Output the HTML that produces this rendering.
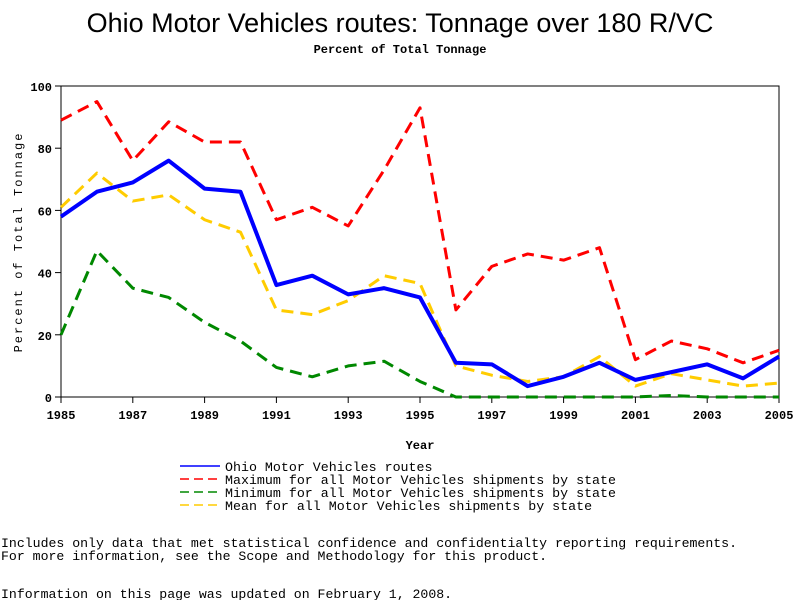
<!DOCTYPE html>
<html><head><meta charset="utf-8"><style>
body{margin:0;background:#fff;width:800px;height:600px;overflow:hidden}
svg{display:block}
text{font-family:"Liberation Mono",monospace}
</style></head><body>
<svg id="chart" width="800" height="600" xmlns="http://www.w3.org/2000/svg">
<text x="400" y="32" text-anchor="middle" style="font-family:'Liberation Sans',sans-serif" font-size="27">Ohio Motor Vehicles routes: Tonnage over 180 R/VC</text>
<text x="400" y="53" text-anchor="middle" font-size="12" font-weight="bold">Percent of Total Tonnage</text>
<rect x="61" y="86" width="718" height="311" fill="none" stroke="#000" stroke-width="1"/>
<g id="yticks"></g><g id="xticks"></g><g id="series"></g>
<text transform="translate(22,242) rotate(-90)" text-anchor="middle" font-size="12" letter-spacing="2">Percent of Total Tonnage</text>
<text x="420" y="449" text-anchor="middle" font-size="12" font-weight="bold">Year</text>
<g font-size="13.3">
<line x1="180" y1="466" x2="220" y2="466" stroke="#00f" stroke-width="1.5"/>
<text x="225" y="471">Ohio Motor Vehicles routes</text>
<line x1="180" y1="479" x2="220" y2="479" stroke="#f00" stroke-width="1.5" stroke-dasharray="9,5"/>
<text x="225" y="484">Maximum for all Motor Vehicles shipments by state</text>
<line x1="180" y1="492" x2="220" y2="492" stroke="#080" stroke-width="1.5" stroke-dasharray="9,5"/>
<text x="225" y="497">Minimum for all Motor Vehicles shipments by state</text>
<line x1="180" y1="505" x2="220" y2="505" stroke="#fc0" stroke-width="1.5" stroke-dasharray="9,5"/>
<text x="225" y="510">Mean for all Motor Vehicles shipments by state</text>
</g>
<g font-size="13.2">
<text x="1" y="547">Includes only data that met statistical confidence and confidentialty reporting requirements.</text>
<text x="1" y="560">For more information, see the Scope and Methodology for this product.</text>
<text x="1" y="598">Information on this page was updated on February 1, 2008.</text>
</g>
</svg>
<script>
const years=[1985,1986,1987,1988,1989,1990,1991,1992,1993,1994,1995,1996,1997,1998,1999,2000,2001,2002,2003,2004,2005];
const ohioValues=[58,66,69,76,67,66,36,39,33,35,32,11,10.5,3.5,6.5,11,5.5,8,10.5,6,13];
const maxValues=[89,95,76,88.5,82,82,57,61,55,73,93,28,42,46,44,48,12,18,15.5,11,15];
const minValues=[20,47,35,32,24,18,9.5,6.5,10,11.5,5,0,0,0,0,0,0,0.5,0,0,0];
const meanValues=[61,72,63,65,57,53,28,26.5,31,39,36.5,10,7,5,6.5,13,3.5,7.5,5.5,3.5,4.5];
const yTickValues=[0,20,40,60,80,100];
const xTickYears=[1985,1987,1989,1991,1993,1995,1997,1999,2001,2003,2005];
const NS='http://www.w3.org/2000/svg';
const X=y=>61+(y-1985)*(718/20);
const Y=v=>397-v*3.11;
function mk(t,a,p){const e=document.createElementNS(NS,t);for(const k in a)e.setAttribute(k,a[k]);p.appendChild(e);return e;}
const yt=document.getElementById('yticks');
yTickValues.forEach(v=>{
 const l=mk('line',{x1:55,x2:61,y1:Y(v),y2:Y(v),stroke:'#000'},yt);
 
 
 const t=mk('text',{x:52,y:Y(v)+5,'text-anchor':'end','font-size':12,'font-weight':'bold'},yt);
 t.textContent=v;
 
 
});
const xt=document.getElementById('xticks');
xTickYears.forEach(y=>{
 const l=mk('line',{x1:X(y),x2:X(y),y1:397,y2:403,stroke:'#000'},xt);
 
 
 const t=mk('text',{x:X(y),y:419,'text-anchor':'middle','font-size':12,'font-weight':'bold'},xt);
 t.textContent=y;
 
 
});
const sg=document.getElementById('series');
function line(vals,color,w,dash,name){
 const p=mk('polyline',{points:vals.map((v,i)=>X(years[i])+','+Y(v)).join(' '),fill:'none',stroke:color,'stroke-width':w,'stroke-linejoin':'round'},sg);
 if(dash)p.setAttribute('stroke-dasharray',dash);
 
 
}
line(maxValues,'#f00',3,'12,7','max-series-line');
line(minValues,'#080',3,'12,7','min-series-line');
line(meanValues,'#fc0',3,'12,7','mean-series-line');
line(ohioValues,'#00f',4,null,'ohio-series-line');
</script>
</body></html>
